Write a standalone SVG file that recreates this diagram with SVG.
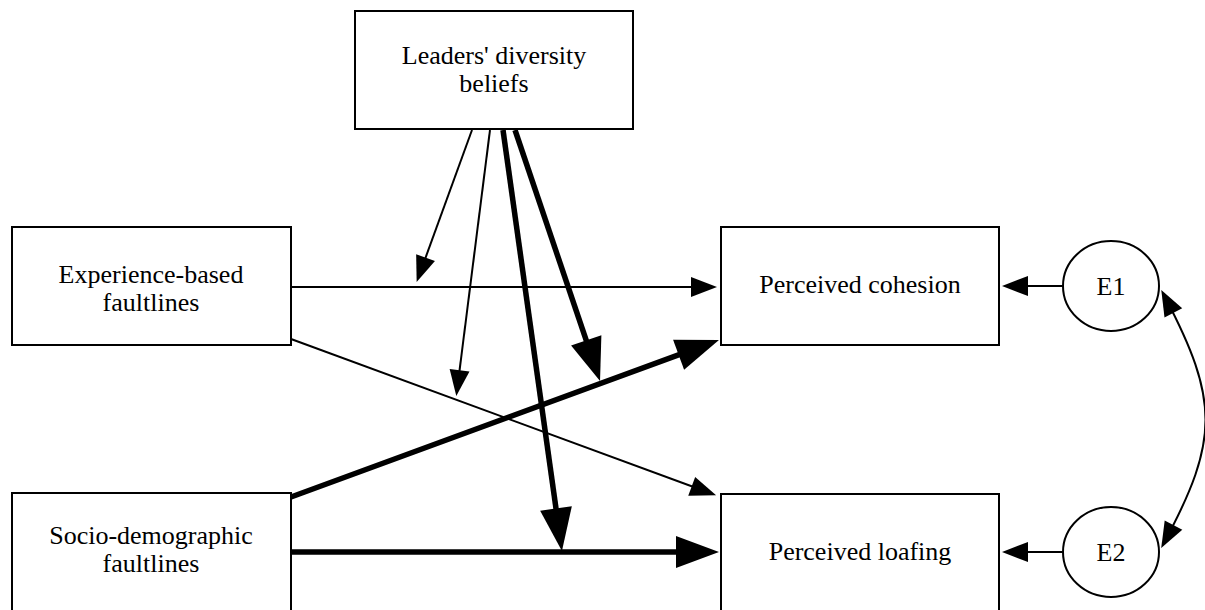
<svg xmlns="http://www.w3.org/2000/svg" width="1205" height="610" viewBox="0 0 1205 610">
<style>
.box{fill:#fff;stroke:#000;stroke-width:2}
.lbl{font-family:"Liberation Serif","Times New Roman",serif;font-size:26px;fill:#000;text-anchor:middle}
.thin{fill:none;stroke:#000;stroke-width:2;marker-end:url(#ah)}
.thick{fill:none;stroke:#000;stroke-width:5.5;stroke-linecap:round;marker-end:url(#ahb)}
</style>
<defs>
<marker id="ah" markerUnits="userSpaceOnUse" markerWidth="26" markerHeight="20" refX="18" refY="10" orient="auto-start-reverse" overflow="visible">
<path d="M0,0 L26,10 L0,20 z" fill="#000"/>
</marker>
<marker id="ahb" markerUnits="userSpaceOnUse" markerWidth="43" markerHeight="32" refX="13" refY="16" orient="auto" overflow="visible">
<path d="M0,0 L43,16 L0,32 z" fill="#000"/>
</marker>
</defs>
<g id="connectors">
<path class="thin" d="M291,287 L709,287"/>
<path class="thin" d="M291,339 L708.6,492.5"/>
<path class="thick" d="M291,497 L690.8,350.3"/>
<path class="thick" d="M291,552 L689,552"/>
<path class="thin" d="M472,130 L419.4,274.6"/>
<path class="thin" d="M490,130 L457.3,388.1"/>
<path class="thick" style="stroke-linecap:butt" d="M503,130 L557.8,521.3"/>
<path class="thick" style="stroke-linecap:butt" d="M515,130 L590.4,352.6"/>
<path class="thin" d="M1063,286 L1010,286"/>
<path class="thin" d="M1063,552 L1010,552"/>
<path class="thin" style="marker-start:url(#ah)" d="M1165,297 C1219,400 1219,440 1165,541"/>
</g>
<g id="leaders">
<rect class="box" x="355" y="11" width="278" height="118"/>
<text class="lbl" x="494" y="64">Leaders' diversity</text>
<text class="lbl" x="494" y="92">beliefs</text>
</g>
<g id="experience">
<rect class="box" x="12" y="227" width="279" height="118"/>
<text class="lbl" x="151" y="283">Experience-based</text>
<text class="lbl" x="151" y="311">faultlines</text>
</g>
<g id="socio">
<rect class="box" x="12" y="493" width="279" height="120"/>
<text class="lbl" x="151" y="544">Socio-demographic</text>
<text class="lbl" x="151" y="572">faultlines</text>
</g>
<g id="cohesion">
<rect class="box" x="721" y="227" width="278" height="118"/>
<text class="lbl" x="860" y="293">Perceived cohesion</text>
</g>
<g id="loafing">
<rect class="box" x="721" y="494" width="278" height="120"/>
<text class="lbl" x="860" y="560">Perceived loafing</text>
</g>
<g id="e1">
<ellipse class="box" cx="1111" cy="286" rx="48" ry="45"/>
<text class="lbl" x="1111" y="295">E1</text>
</g>
<g id="e2">
<ellipse class="box" cx="1111" cy="552" rx="48" ry="45"/>
<text class="lbl" x="1111" y="561">E2</text>
</g>
</svg>
